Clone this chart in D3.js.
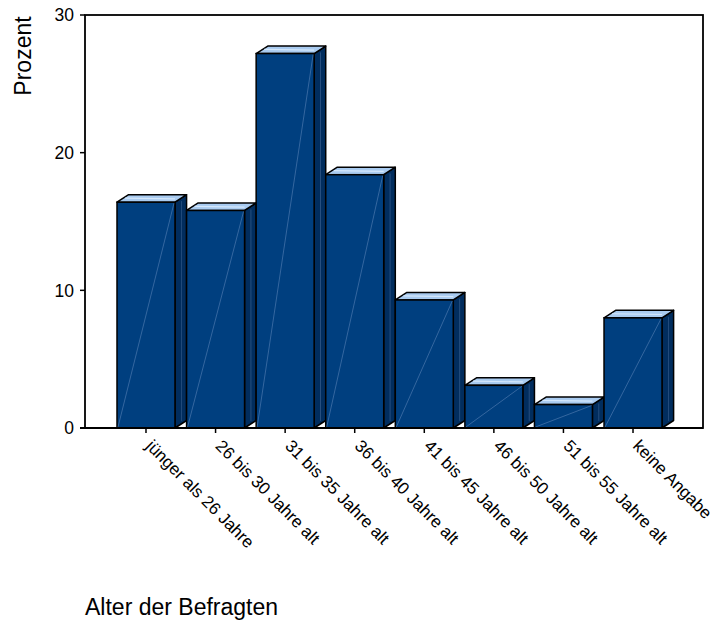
<!DOCTYPE html>
<html>
<head>
<meta charset="utf-8">
<script src="https://cdn.jsdelivr.net/npm/d3@7"></script>
<style>
  body { margin: 0; background: #fff; }
  text { font-family: "Liberation Sans", Arial, sans-serif; fill: #000; }
</style>
</head>
<body>
<div id="chart"></div>
<script>
// age groups and their share in percent
const categories = ["jünger als 26 Jahre", "26 bis 30 Jahre alt", "31 bis 35 Jahre alt", "36 bis 40 Jahre alt",
    "41 bis 45 Jahre alt", "46 bis 50 Jahre alt", "51 bis 55 Jahre alt", "keine Angabe"];
const percent = [16.4, 15.8, 27.2, 18.4, 9.3, 3.1, 1.7, 8.0];
const yTicks = [0, 10, 20, 30];

const width = 715;
const height = 623;
const frame = { left: 85, top: 15, right: 703, bottom: 428 };

const svg = d3.select("#chart").append("svg")
    .attr("width", width)
    .attr("height", height);

const x = d3.scaleBand()
    .domain(categories)
    .range([117, 673.6])
    .padding(0);

const y = d3.scaleLinear()
    .domain([0, 30])
    .range([frame.bottom, frame.top]);

// 3d look: front face + side + top
const frontW = x.bandwidth() * 5 / 6;
const dx = x.bandwidth() - frontW;
const dy = 7.5;

// plot frame
svg.append("rect")
    .attr("x", frame.left)
    .attr("y", frame.top)
    .attr("width", frame.right - frame.left)
    .attr("height", frame.bottom - frame.top)
    .attr("fill", "none")
    .attr("stroke", "#000")
    .attr("stroke-width", 1.8);

const bars = svg.append("g")
    .selectAll("g")
    .data(categories)
    .enter().append("g");

// side face
bars.append("path")
    .attr("d", (d, i) => {
        const x1 = x(d) + frontW, yt = y(percent[i]), yb = y(0);
        return `M${x1},${yb} L${x1 + dx},${yb - dy} L${x1 + dx},${yt - dy} L${x1},${yt} Z`;
    })
    .attr("fill", "#012d5e")
    .attr("stroke", "#000")
    .attr("stroke-width", 1.5)
    .attr("stroke-linejoin", "round");

// faint highlight on the side
bars.append("line")
    .attr("x1", d => x(d) + frontW + dx * 0.55)
    .attr("x2", d => x(d) + frontW + dx * 0.55)
    .attr("y1", (d, i) => y(0) - dy * 0.55 - 3)
    .attr("y2", (d, i) => y(percent[i]) - dy * 0.55 + 3)
    .attr("stroke", "#4d73a3")
    .attr("stroke-width", 0.7)
    .attr("opacity", 0.7);

// top face
bars.append("path")
    .attr("d", (d, i) => {
        const x0 = x(d), yt = y(percent[i]);
        return `M${x0},${yt} L${x0 + dx},${yt - dy} L${x0 + frontW + dx},${yt - dy} L${x0 + frontW},${yt} Z`;
    })
    .attr("fill", "#a9cbf0")
    .attr("stroke", "#000")
    .attr("stroke-width", 1.5)
    .attr("stroke-linejoin", "round");

bars.append("line")
    .attr("x1", d => x(d) + dx * 0.7)
    .attr("x2", d => x(d) + frontW)
    .attr("y1", (d, i) => y(percent[i]) - dy * 0.55)
    .attr("y2", (d, i) => y(percent[i]) - dy * 0.45)
    .attr("stroke", "#d4e7fb")
    .attr("stroke-width", 1.2);

// front face
bars.append("rect")
    .attr("x", d => x(d))
    .attr("y", (d, i) => y(percent[i]))
    .attr("width", frontW)
    .attr("height", (d, i) => y(0) - y(percent[i]))
    .attr("fill", "#003f7f")
    .attr("stroke", "#000")
    .attr("stroke-width", 1.5);

// diagonal sheen on the front
bars.append("line")
    .attr("x1", d => x(d) + 1)
    .attr("y1", y(0) - 1)
    .attr("x2", d => x(d) + frontW - 1)
    .attr("y2", (d, i) => y(percent[i]) + 1)
    .attr("stroke", "#6f93c4")
    .attr("stroke-width", 0.6)
    .attr("opacity", 0.8);

// y axis ticks + labels
svg.append("g")
    .selectAll("line")
    .data(yTicks)
    .enter().append("line")
    .attr("x1", frame.left - 5)
    .attr("x2", frame.left)
    .attr("y1", d => y(d))
    .attr("y2", d => y(d))
    .attr("stroke", "#000")
    .attr("stroke-width", 1.5);

svg.append("g")
    .selectAll("text")
    .data(yTicks)
    .enter().append("text")
    .attr("x", frame.left - 11)
    .attr("y", d => y(d))
    .attr("dy", "0.36em")
    .attr("text-anchor", "end")
    .style("font-size", "17.5px")
    .text(d => d);

// bottom axis line (runs a bit left like the tick marks)
svg.append("line")
    .attr("x1", frame.left - 5)
    .attr("x2", frame.right)
    .attr("y1", frame.bottom)
    .attr("y2", frame.bottom)
    .attr("stroke", "#000")
    .attr("stroke-width", 1.8);

// x ticks + rotated labels
const tickX = d => x(d) + frontW / 2;

svg.append("g")
    .selectAll("line")
    .data(categories)
    .enter().append("line")
    .attr("x1", tickX)
    .attr("x2", tickX)
    .attr("y1", frame.bottom)
    .attr("y2", frame.bottom + 5)
    .attr("stroke", "#000")
    .attr("stroke-width", 1.5);

svg.append("g")
    .selectAll("text")
    .data(categories)
    .enter().append("text")
    .attr("transform", d => `translate(${tickX(d) - 1},${frame.bottom + 19}) rotate(45)`)
    .attr("text-anchor", "start")
    .style("font-size", "17px")
    .text(d => d);

// axis titles
svg.append("text")
    .attr("transform", "translate(31,56) rotate(-90)")
    .attr("text-anchor", "middle")
    .style("font-size", "23px")
    .text("Prozent");

svg.append("text")
    .attr("x", 85)
    .attr("y", 615)
    .style("font-size", "23px")
    .text("Alter der Befragten");
</script>
</body>
</html>
